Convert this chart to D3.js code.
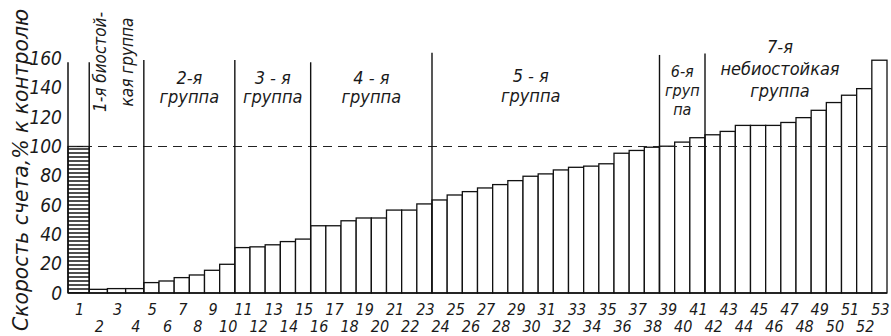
<!DOCTYPE html>
<html><head><meta charset="utf-8">
<script src="https://cdn.jsdelivr.net/npm/d3@7"></script>
<style>
html,body{margin:0;padding:0;background:#fff;}
</style></head>
<body>
<svg id="c" width="891" height="336"></svg>
<script>
// ---- data ----
const categories = d3.range(1, 54).map(String);
const values = [
  100,                                   // 1 control
  2.5, 3, 3,                             // 2-4  group 1
  7.1, 8.2, 10.5, 12.3, 15.5, 19.6,      // 5-10 group 2
  31, 31.5, 32.9, 35.1, 36.8,            // 11-15 group 3
  45.9, 45.9, 49.3, 51.2, 51.2, 56.6, 56.6, 60.8, // 16-23 group 4
  63.5, 66.9, 69.2, 71.7, 74, 76.7, 79.7, 81.3, 84, 85.8, 86.6, 88.2, 95.4, 97.3, 99.5, // 24-38 group 5
  100.2, 103, 106,                       // 39-41 group 6
  108, 110.3, 114.4, 114.4, 114.4, 116.4, 119.7, 124.7, 130, 135, 139.5, 158.9 // 42-53 group 7
];
const yTicks = [0, 20, 40, 60, 80, 100, 120, 140, 160];
const groupLastBar = [1, 4, 10, 15, 23, 38, 41];       // group divider after these bars
const groupLineTop = [157.5, 159, 159, 157.5, 164, 162.5, 163.5];
const groupLabels = [
  ["1-я биостой-", "кая группа"],
  ["2-я", "группа"],
  ["3 - я", "группа"],
  ["4 - я", "группа"],
  ["5 - я", "группа"],
  ["6-я", "груп", "па"],
  ["7-я", "небиостойкая", "группа"]
];
const yTitle = "Скорость счета,% к контролю";
const referenceLevel = 100;

// ---- layout ----
const FONT = "'Liberation Sans Narrow','DejaVu Sans Condensed','Roboto Condensed','Noto Sans',sans-serif";
const svg = d3.select("#c");
const x0 = 68, x1 = 887, yBase = 293;
const weight = (i) => i === 0 ? 1.4 : (i <= 3 ? 1.2 : 1);
const cum = [0];
values.forEach((v, i) => cum.push(cum[i] + weight(i)));
const x = d3.scaleLinear().domain([0, cum[cum.length - 1]]).range([x0, x1]);
const y = d3.scaleLinear().domain([0, 160]).range([yBase, yBase - 160 * 1.465]);

function styleText(sel, size) {
  return sel.attr("font-family", FONT).attr("font-style", "italic")
    .attr("font-size", size).attr("fill", "#1a1a1a");
}

// hatch pattern for control bar
const defs = svg.append("defs");
const pat = defs.append("pattern").attr("id", "hatch").attr("patternUnits", "userSpaceOnUse")
  .attr("width", 6).attr("height", 4);
pat.append("rect").attr("width", 6).attr("height", 4).attr("fill", "#fff");
pat.append("line").attr("x1", 0).attr("x2", 6).attr("y1", 1).attr("y2", 1)
  .attr("stroke", "#222").attr("stroke-width", 1.6);

// bars
svg.append("g").selectAll("rect").data(values).join("rect")
  .attr("x", (d, i) => x(cum[i]))
  .attr("width", (d, i) => x(cum[i + 1]) - x(cum[i]))
  .attr("y", d => y(d))
  .attr("height", d => yBase - y(d))
  .attr("fill", (d, i) => i === 0 ? "url(#hatch)" : "#fff")
  .attr("stroke", "#111").attr("stroke-width", 1.3);

// reference dashed line
svg.append("line").attr("x1", x0).attr("x2", x1)
  .attr("y1", y(referenceLevel)).attr("y2", y(referenceLevel))
  .attr("stroke", "#222").attr("stroke-width", 1.2).attr("stroke-dasharray", "9,6");

// baseline
svg.append("line").attr("x1", x0).attr("x2", x1).attr("y1", yBase).attr("y2", yBase)
  .attr("stroke", "#111").attr("stroke-width", 1.5);

// y axis
const yAxis = d3.axisLeft(y).tickValues(yTicks).tickSize(0).tickPadding(6);
const ga = svg.append("g").attr("transform", `translate(${x0},0)`).call(yAxis);
ga.attr("font-family", null).attr("font-size", null);
ga.select(".domain").attr("stroke", "#111").attr("stroke-width", 1.5).attr("d", `M0,${yBase}V${y(157.5)}`);
styleText(ga.selectAll("text"), 19);

// y title
styleText(svg.append("text").attr("transform", `translate(28,${170}) rotate(-90)`)
  .attr("text-anchor", "middle").attr("textLength", 322)
  .attr("lengthAdjust", "spacingAndGlyphs").text(yTitle), 21);

// group dividers
svg.append("g").selectAll("line").data(groupLastBar).join("line")
  .attr("x1", d => x(cum[d])).attr("x2", d => x(cum[d]))
  .attr("y1", yBase).attr("y2", (d, i) => y(groupLineTop[i]))
  .attr("stroke", "#111").attr("stroke-width", 1.4);

// x labels
const gx = svg.append("g");
styleText(gx.selectAll("text").data(categories).join("text")
  .attr("x", (d, i) => (x(cum[i]) + x(cum[i + 1])) / 2 + 1)
  .attr("y", (d, i) => i % 2 === 0 ? 315 : 332)
  .attr("text-anchor", "middle")
  .text(d => d), 16);

// group labels
const labelLayout = [
  null,
  {dx: 0, y0: 84, dy: 19, fs: 18},
  {dx: 0, y0: 84, dy: 19, fs: 18},
  {dx: 0, y0: 84, dy: 19, fs: 18},
  {dx: -15, y0: 82, dy: 20, fs: 18},
  {dx: 0, y0: 77, dy: 19, fs: 16},
  {dx: -16, y0: 53, dy: 22, fs: 18}
];
groupLabels.forEach((lines, gi) => {
  const start = groupLastBar[gi];
  const end = gi + 1 < groupLastBar.length ? groupLastBar[gi + 1] : values.length;
  const cx = (x(cum[start]) + x(cum[end])) / 2;
  if (gi === 0) {
    lines.forEach((t, li) => {
      styleText(svg.append("text")
        .attr("transform", `translate(${cx - 11 + li * 27},${62}) rotate(-90)`)
        .attr("text-anchor", "middle").text(t), 17);
    });
    return;
  }
  const L = labelLayout[gi];
  lines.forEach((t, li) => {
    styleText(svg.append("text").attr("x", cx + L.dx).attr("y", L.y0 + li * L.dy)
      .attr("text-anchor", "middle").text(t), L.fs);
  });
});
</script>
</body></html>
